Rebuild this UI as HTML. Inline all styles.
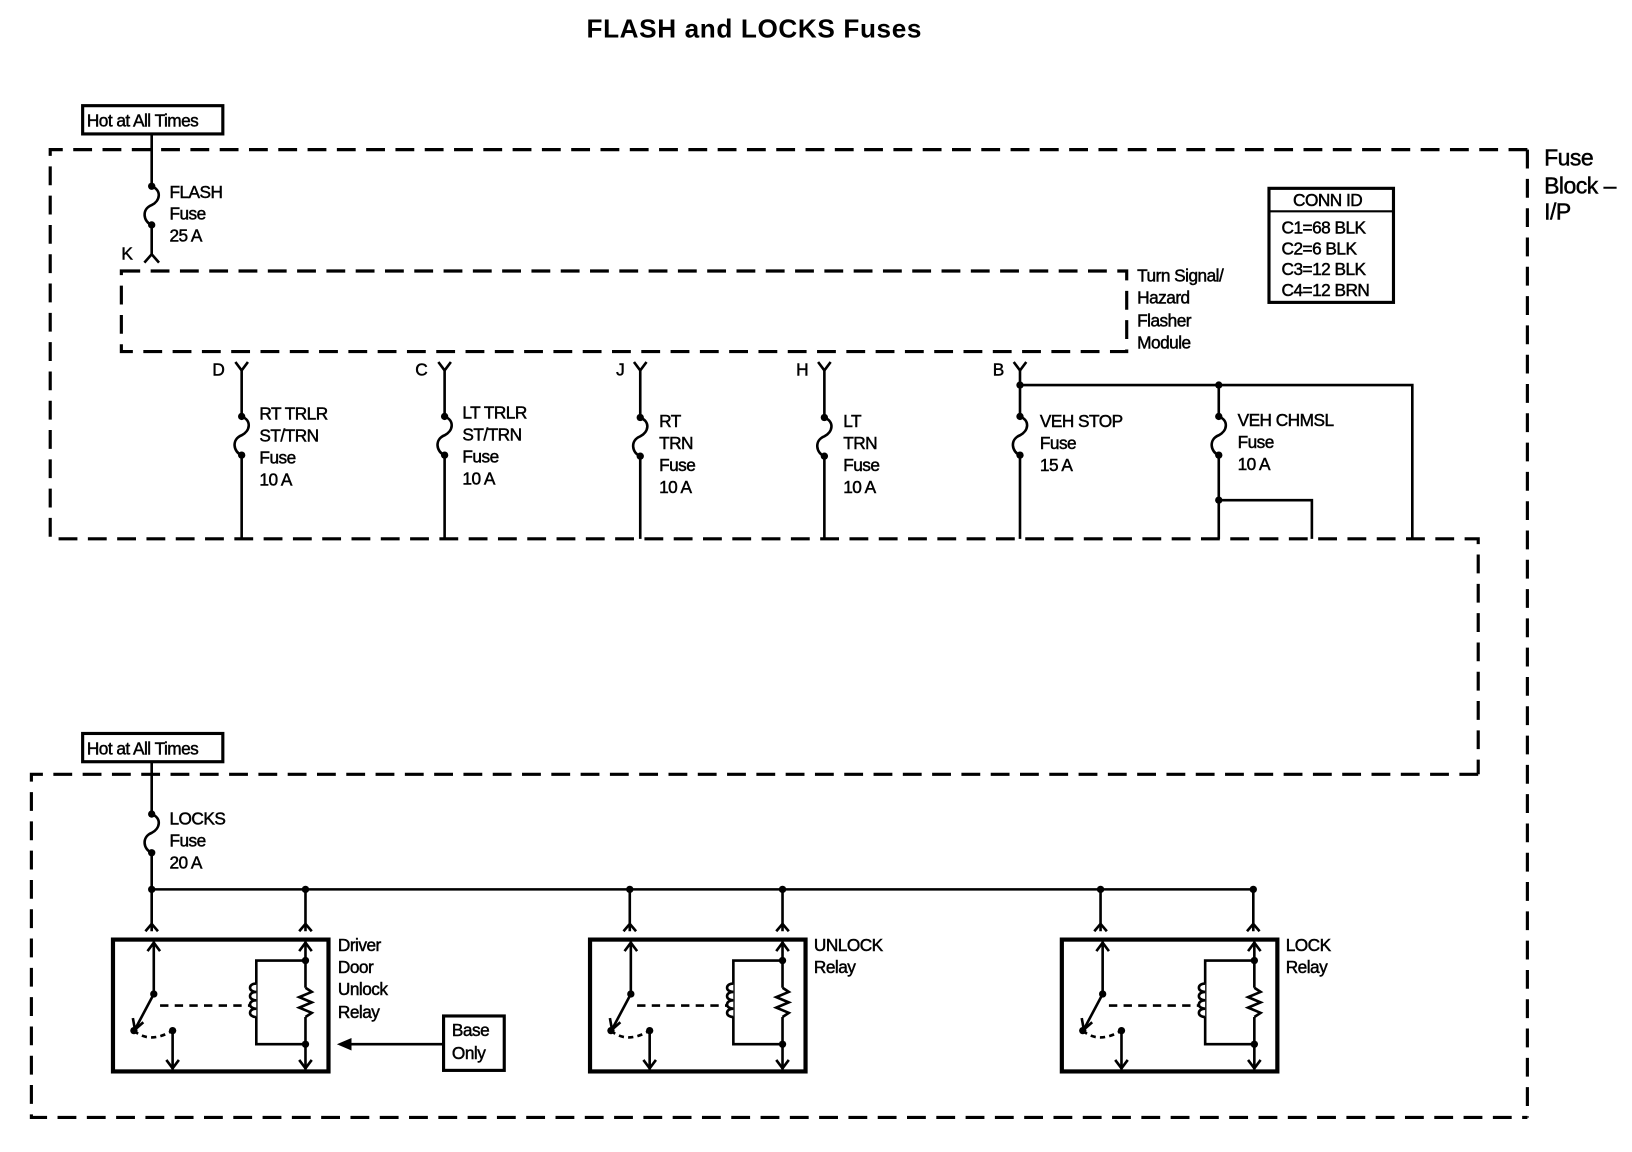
<!DOCTYPE html>
<html><head><meta charset="utf-8"><style>
html,body{margin:0;padding:0;background:#fff;}
svg{display:block;}
text{font-family:"Liberation Sans",sans-serif;font-size:16.5px;fill:#000;stroke:#000;stroke-width:0.45px;letter-spacing:-0.5px;}
.b{font-weight:bold;stroke-width:0;}
</style></head><body>
<svg width="1632" height="1152" viewBox="0 0 1560 1101" preserveAspectRatio="none" xmlns="http://www.w3.org/2000/svg">
<defs>
<g id="relay" fill="none" stroke="#000" stroke-width="2.5">
  <rect x="0" y="0" width="206" height="126" stroke-width="4"/>
  <line x1="39" y1="2" x2="39" y2="52"/>
  <polyline points="33,11 39,3 45,11"/>
  <line x1="39" y1="52" x2="22" y2="84"/>
  <polyline points="19,75 21,86 29,79"/>
  <path d="M20,87 Q35,100 57,87" stroke-dasharray="5,4"/>
  <line x1="57" y1="87" x2="57" y2="124"/>
  <polyline points="51,115 57,123 63,115"/>
  <line x1="45" y1="63" x2="137" y2="63" stroke-dasharray="8,6"/>
  <polyline points="184,20 137,20 137,100 184,100"/>
  <path d="M137,42 c-8,0 -8,8 0,8 c-8,0 -8,8 0,8 c-8,0 -8,8 0,8 c-8,0 -8,8 0,8" fill="#fff"/>
  <line x1="184" y1="2" x2="184" y2="46"/>
  <polyline points="184,46 190,50 178,55 190,60 178,65 190,70 184,74"/>
  <line x1="184" y1="74" x2="184" y2="124"/>
  <polyline points="178,11 184,3 190,11"/>
  <polyline points="178,115 184,123 190,115"/>
  <circle cx="39" cy="52" r="3.5" fill="#000" stroke="none"/>
  <circle cx="20" cy="87" r="3.5" fill="#000" stroke="none"/>
  <circle cx="57" cy="87" r="3.5" fill="#000" stroke="none"/>
  <circle cx="184" cy="20" r="3.5" fill="#000" stroke="none"/>
  <circle cx="184" cy="100" r="3.5" fill="#000" stroke="none"/>
</g>
<path id="fuse" d="M0,0 c10,4 8,14 0,18 c-10,4 -8,16 0,19" fill="none" stroke="#000" stroke-width="2.5"/>
</defs>

<text x="721" y="36" text-anchor="middle" class="b" style="font-size:25px;letter-spacing:0.6px">FLASH and LOCKS Fuses</text>

<g fill="none" stroke="#000" stroke-width="3" stroke-dasharray="18,10">
  <polyline points="1460,143 48,143 48,515 1413,515 1413,740"/>
  <line x1="1460" y1="143" x2="1460" y2="1068"/>
  <polyline points="1413,740 30,740 30,1068 1460,1068"/>
  <rect x="116" y="259" width="961" height="77"/>
</g>

<rect x="79" y="101" width="134" height="27" fill="none" stroke="#000" stroke-width="3"/>
<text x="83" y="121">Hot at All Times</text>
<rect x="79" y="701" width="134" height="27" fill="none" stroke="#000" stroke-width="3"/>
<text x="83" y="721">Hot at All Times</text>

<g stroke="#000" stroke-width="2.5" fill="none">
  <line x1="145" y1="128" x2="145" y2="178"/>
  <line x1="145" y1="215" x2="145" y2="244"/>
  <polyline points="138,251 145,243 152,251"/>
  <line x1="231" y1="353" x2="231" y2="398"/><line x1="231" y1="435" x2="231" y2="515"/>
  <line x1="425" y1="353" x2="425" y2="398"/><line x1="425" y1="435" x2="425" y2="515"/>
  <line x1="612" y1="353" x2="612" y2="399"/><line x1="612" y1="436" x2="612" y2="515"/>
  <line x1="788" y1="353" x2="788" y2="399"/><line x1="788" y1="436" x2="788" y2="515"/>
  <line x1="975" y1="353" x2="975" y2="398"/><line x1="975" y1="435" x2="975" y2="515"/>
  <polyline points="975,368 1350,368 1350,515"/>
  <line x1="1165" y1="368" x2="1165" y2="398"/><line x1="1165" y1="435" x2="1165" y2="515"/>
  <polyline points="1165,478 1254,478 1254,515"/>
  <polyline points="225,346 231,354 237,346"/>
  <polyline points="419,346 425,354 431,346"/>
  <polyline points="606,346 612,354 618,346"/>
  <polyline points="782,346 788,354 794,346"/>
  <polyline points="969,346 975,354 981,346"/>
  <line x1="145" y1="728" x2="145" y2="778"/>
  <line x1="145" y1="815" x2="145" y2="890"/>
  <line x1="145" y1="850" x2="1198" y2="850"/>
  <line x1="292" y1="850" x2="292" y2="890"/>
  <line x1="602" y1="850" x2="602" y2="890"/>
  <line x1="748" y1="850" x2="748" y2="890"/>
  <line x1="1052" y1="850" x2="1052" y2="890"/>
  <line x1="1198" y1="850" x2="1198" y2="890"/>
  <polyline points="139,890 145,883 151,890"/>
  <polyline points="286,890 292,883 298,890"/>
  <polyline points="596,890 602,883 608,890"/>
  <polyline points="742,890 748,883 754,890"/>
  <polyline points="1046,890 1052,883 1058,890"/>
  <polyline points="1192,890 1198,883 1204,890"/>
  <line x1="334" y1="998" x2="425" y2="998"/>
</g>
<polygon points="322,998 336,992 336,1004" fill="#000"/>

<use href="#fuse" x="145" y="178"/>
<use href="#fuse" x="231" y="398"/>
<use href="#fuse" x="425" y="398"/>
<use href="#fuse" x="612" y="399"/>
<use href="#fuse" x="788" y="399"/>
<use href="#fuse" x="975" y="398"/>
<use href="#fuse" x="1165" y="398"/>
<use href="#fuse" x="145" y="778"/>

<g fill="#000">
  <circle cx="145" cy="178" r="3.5"/><circle cx="145" cy="215" r="3.5"/>
  <circle cx="231" cy="398" r="3.5"/><circle cx="231" cy="435" r="3.5"/>
  <circle cx="425" cy="398" r="3.5"/><circle cx="425" cy="435" r="3.5"/>
  <circle cx="612" cy="399" r="3.5"/><circle cx="612" cy="436" r="3.5"/>
  <circle cx="788" cy="399" r="3.5"/><circle cx="788" cy="436" r="3.5"/>
  <circle cx="975" cy="368" r="3.5"/><circle cx="1165" cy="368" r="3.5"/>
  <circle cx="975" cy="398" r="3.5"/><circle cx="975" cy="435" r="3.5"/>
  <circle cx="1165" cy="398" r="3.5"/><circle cx="1165" cy="435" r="3.5"/>
  <circle cx="1165" cy="478" r="3.5"/>
  <circle cx="145" cy="778" r="3.5"/><circle cx="145" cy="815" r="3.5"/>
  <circle cx="145" cy="850" r="3.5"/><circle cx="292" cy="850" r="3.5"/>
  <circle cx="602" cy="850" r="3.5"/><circle cx="748" cy="850" r="3.5"/>
  <circle cx="1052" cy="850" r="3.5"/><circle cx="1198" cy="850" r="3.5"/>
</g>

<use href="#relay" x="108" y="898"/>
<use href="#relay" x="564" y="898"/>
<use href="#relay" x="1015" y="898"/>

<rect x="424" y="971" width="58" height="52" fill="#fff" stroke="#000" stroke-width="3"/>
<text x="432" y="990">Base</text><text x="432" y="1012">Only</text>

<text x="162" y="189">FLASH</text><text x="162" y="210">Fuse</text><text x="162" y="231">25 A</text>
<text x="116" y="248">K</text>
<text x="203" y="359">D</text><text x="397" y="359">C</text><text x="589" y="359">J</text>
<text x="761" y="359">H</text><text x="949" y="359">B</text>
<text x="248" y="401">RT TRLR</text><text x="248" y="422">ST/TRN</text><text x="248" y="443">Fuse</text><text x="248" y="464">10 A</text>
<text x="442" y="400">LT TRLR</text><text x="442" y="421">ST/TRN</text><text x="442" y="442">Fuse</text><text x="442" y="463">10 A</text>
<text x="630" y="408">RT</text><text x="630" y="429">TRN</text><text x="630" y="450">Fuse</text><text x="630" y="471">10 A</text>
<text x="806" y="408">LT</text><text x="806" y="429">TRN</text><text x="806" y="450">Fuse</text><text x="806" y="471">10 A</text>
<text x="994" y="408">VEH STOP</text><text x="994" y="429">Fuse</text><text x="994" y="450">15 A</text>
<text x="1183" y="407">VEH CHMSL</text><text x="1183" y="428">Fuse</text><text x="1183" y="449">10 A</text>
<text x="1087" y="269">Turn Signal/</text><text x="1087" y="290">Hazard</text><text x="1087" y="312">Flasher</text><text x="1087" y="333">Module</text>
<rect x="1213" y="180" width="119" height="109" fill="none" stroke="#000" stroke-width="3"/>
<line x1="1213" y1="202" x2="1332" y2="202" stroke="#000" stroke-width="2"/>
<text x="1236" y="197">CONN ID</text>
<text x="1225" y="223">C1=68 BLK</text><text x="1225" y="243">C2=6 BLK</text>
<text x="1225" y="263">C3=12 BLK</text><text x="1225" y="283">C4=12 BRN</text>
<text x="1476" y="158" style="font-size:22px">Fuse</text>
<text x="1476" y="185" style="font-size:22px">Block –</text>
<text x="1476" y="210" style="font-size:22px">I/P</text>
<text x="162" y="788">LOCKS</text><text x="162" y="809">Fuse</text><text x="162" y="830">20 A</text>
<text x="323" y="909">Driver</text><text x="323" y="930">Door</text><text x="323" y="951">Unlock</text><text x="323" y="973">Relay</text>
<text x="778" y="909">UNLOCK</text><text x="778" y="930">Relay</text>
<text x="1229" y="909">LOCK</text><text x="1229" y="930">Relay</text>
</svg>
</body></html>
